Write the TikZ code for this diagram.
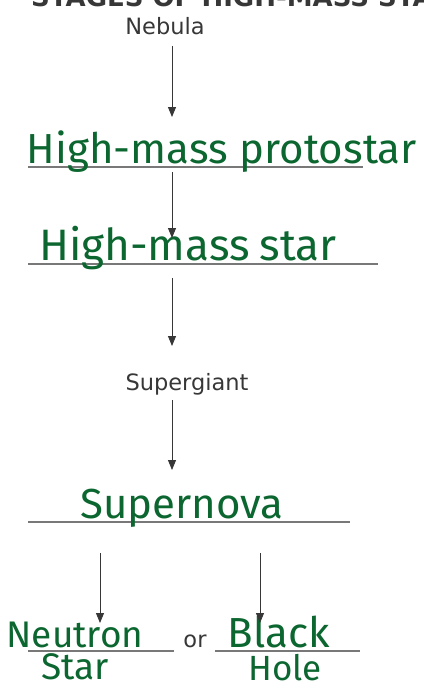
\documentclass[tikz,border=0pt]{standalone}
\usepackage{fontspec}
\setmainfont{DejaVu Sans}
\newfontfamily\handfont{Fira Sans}
\usetikzlibrary{arrows.meta,calc,positioning}
\definecolor{inkgreen}{RGB}{12,102,48}
\definecolor{printgray}{RGB}{55,55,55}
\definecolor{rulegray}{RGB}{120,120,120}
\tikzset{>={Triangle[width=8pt,length=10pt]}}
\tikzset{
  flow/.style={->, draw=printgray, fill=printgray, line width=0.9pt},
  blank/.style={rulegray, line width=1.1pt},
  printed/.style={printgray, inner sep=0pt, anchor=base,
    font=\fontsize{22.5}{22.5}\selectfont},
  hand/.style={inkgreen, inner sep=0pt, anchor=base,
    font=\handfont\fontsize{42}{42}\selectfont},
  title/.style={printgray, inner sep=0pt, anchor=base west,
    font=\bfseries\fontsize{26}{26}\selectfont}
}

\begin{document}
\begin{tikzpicture}[x=1pt,y=-1pt]
  \useasboundingbox (0,0) rectangle (423,688);
  \clip (0,0) rectangle (423,688);
  % heading, cut off by the top edge
  \node[title] (heading) at (31,6) {STAGES OF HIGH-MASS STARS};
  \coordinate (spine) at (172,0);
  % printed stages
  \node[printed] (nebula) at (165,34) {Nebula};
  \node[printed] (supergiant) at (187,390) {Supergiant};
  \node[printed] (or) at (195,647) {or};
  % blanks to fill in
  \draw[blank] (28,167) coordinate (blank1w) -- (363,167) coordinate (blank1e);
  \draw[blank] (28,264) coordinate (blank2w) -- (378,264) coordinate (blank2e);
  \draw[blank] (28,522) coordinate (blank3w) -- (350,522) coordinate (blank3e);
  \draw[blank] (28,651) coordinate (blank4w) -- (174,651) coordinate (blank4e);
  \draw[blank] (215,651) coordinate (blank5w) -- (360,651) coordinate (blank5e);
  % handwritten answers
  \node[hand] (protostar) at (222,163) {High-mass\hspace{12pt}protostar};
  \node[hand, font=\handfont\fontsize{44}{44}\selectfont] (star) at (188,260) {High-mass\hspace{10pt}star};
  \node[hand] (supernova) at (182,518) {Supernova};
  \node[hand, font=\handfont\fontsize{37}{37}\selectfont] (neutron) at (75,647) {Neutron};
  \node[hand, font=\handfont\fontsize{37}{37}\selectfont] (nstar) at (75,679) {Star};
  \node[hand, font=\handfont\fontsize{42}{42}\selectfont] (black) at (279,647) {Black};
  \node[hand, font=\handfont\fontsize{35}{35}\selectfont] (hole) at (285,680) {Hole};
  % arrows
  \draw[flow] ($(nebula.base -| spine)+(0,12)$) -- ($(blank1w -| spine)+(0,-50)$);
  \draw[flow] ($(blank1w -| spine)+(0,5)$) -- ($(blank2w -| spine)+(0,-26)$);
  \draw[flow] ($(blank2w -| spine)+(0,14)$) -- ($(supergiant.base -| spine)+(0,-44)$);
  \draw[flow] ($(supergiant.base -| spine)+(0,10)$) -- ($(blank3w -| spine)+(0,-52)$);
  \draw[flow] ($(blank3w)+(72,31)$) -- ($(blank4w)+(72,-28)$);
  \draw[flow] ($(blank3w)+(232,31)$) -- ($(blank5w)+(45,-28)$);
\end{tikzpicture}
\end{document}
